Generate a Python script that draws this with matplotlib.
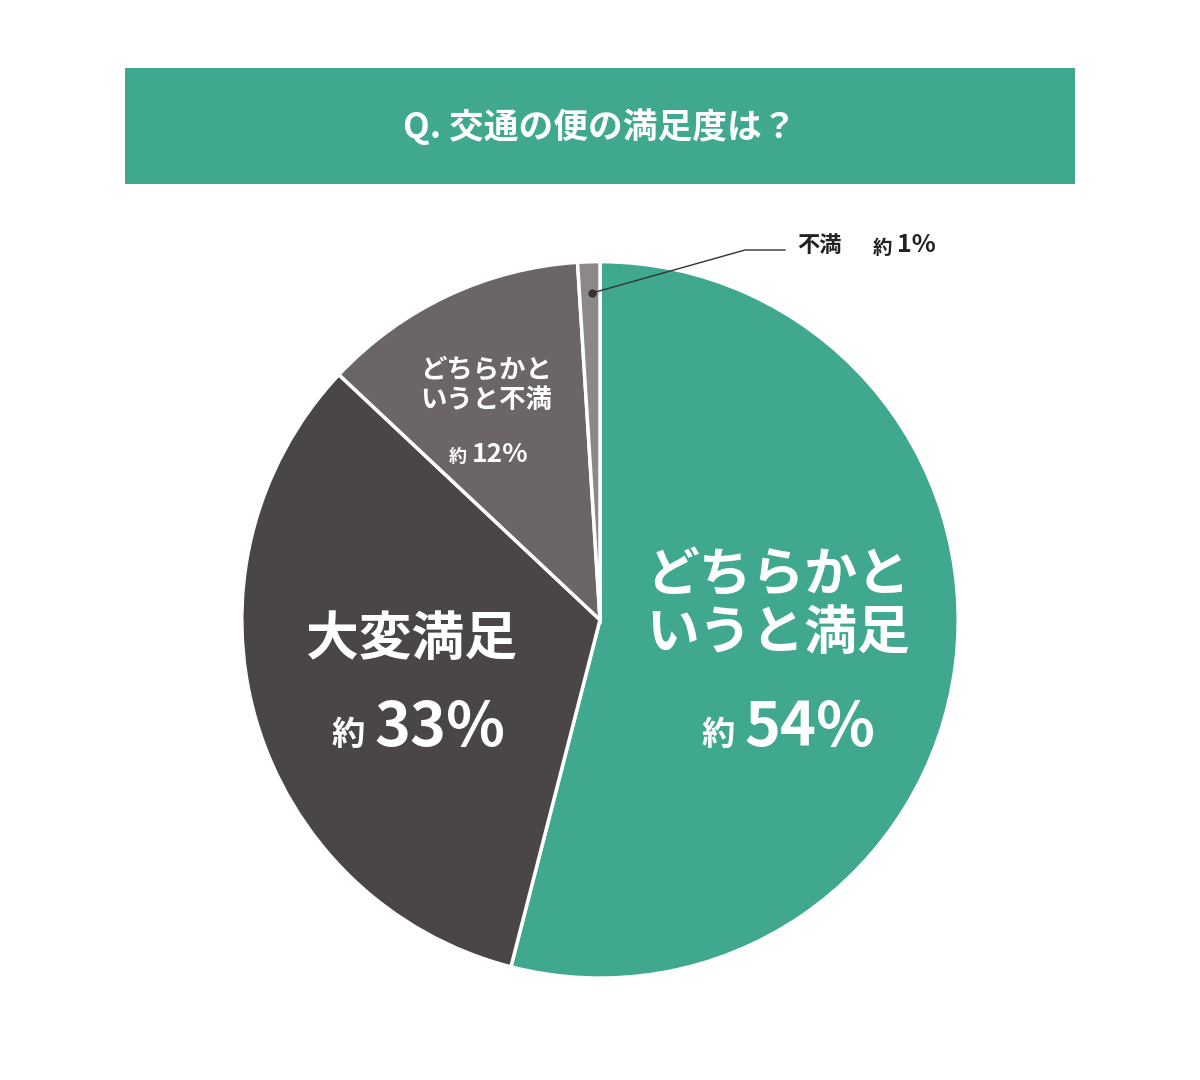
import matplotlib.pyplot as plt
from matplotlib.patches import Rectangle

plt.rcParams['font.family'] = ['Noto Sans CJK JP', 'DejaVu Sans']

labels = ["どちらかと\nいうと満足", "大変満足", "どちらかと\nいうと不満", "不満"]
values = [54, 33, 12, 1]
colors = ["#3fa88f", "#4a4648", "#6b6567", "#8c8789"]
title = "Q. 交通の便の満足度は？"

W, H = 1200, 1080


def px(x, y):
    return x / W, 1 - y / H


fig = plt.figure(figsize=(12, 10.8), dpi=100)
fig.patch.set_facecolor("white")

# title banner
fig.patches.append(Rectangle(px(125, 184), 950 / W, 116 / H, transform=fig.transFigure,
                             facecolor="#3fa88f", edgecolor="none"))
fig.text(*px(600, 127), title, color="white", fontsize=25, fontweight="bold",
         ha="center", va="center")

ax = fig.add_axes([0.2, 0.426 - 0.3333, 0.6, 0.6667])
ax.pie(values, colors=colors, startangle=90, counterclock=False, radius=1,
       wedgeprops=dict(edgecolor="white", linewidth=2.5))
ax.set_xlim(-1.005, 1.005)
ax.set_ylim(-1.005, 1.005)
ax.set_aspect("equal")

wt = dict(color="white", fontweight="bold", ha="center", va="center")
# 54%
fig.text(*px(778, 605), labels[0], fontsize=38, linespacing=1.1, **wt)
fig.text(*px(718, 735), "約", fontsize=24, **wt)
fig.text(*px(810, 728), f"{values[0]}%", fontsize=44, **wt)
# 33%
fig.text(*px(412, 640), labels[1], fontsize=38, **wt)
fig.text(*px(348, 735), "約", fontsize=24, **wt)
fig.text(*px(440, 728), f"{values[1]}%", fontsize=44, **wt)
# 12%
fig.text(*px(486, 385), labels[2], fontsize=19, linespacing=1.15, **wt)
fig.text(*px(458, 457), "約", fontsize=13, **wt)
fig.text(*px(500, 455), f"{values[2]}%", fontsize=19, **wt)

# 1% leader
fig.lines.append(plt.Line2D([592 / W, 745 / W, 785 / W],
                            [1 - 293 / H, 1 - 250 / H, 1 - 250 / H],
                            transform=fig.transFigure, color="#333333", linewidth=1))
fig.lines.append(plt.Line2D([592 / W], [1 - 293 / H], transform=fig.transFigure,
                            marker="o", markersize=5, color="#333333"))
fig.text(*px(797, 246), labels[3], fontsize=16, fontweight="bold", color="#222222",
         ha="left", va="center")
fig.text(*px(873, 248), "約", fontsize=14, fontweight="bold", color="#222222",
         ha="left", va="center")
fig.text(*px(897, 245), f"{values[3]}%", fontsize=18, fontweight="bold", color="#222222",
         ha="left", va="center")

fig.savefig("out.png", dpi=100)
